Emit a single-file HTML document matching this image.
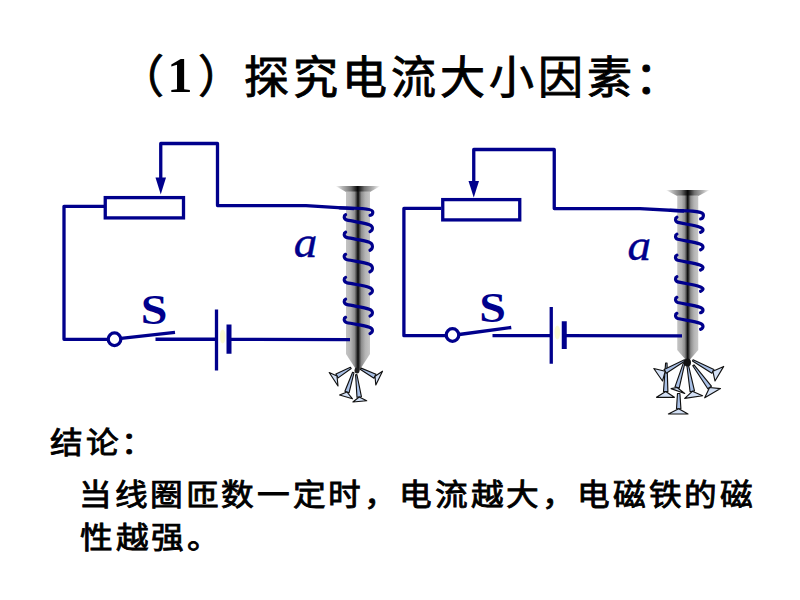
<!DOCTYPE html>
<html lang="zh-CN">
<head>
<meta charset="utf-8">
<title>探究电流大小因素</title>
<style>
html,body{margin:0;padding:0;background:#fff;}
body{width:800px;height:600px;position:relative;overflow:hidden;font-family:"Liberation Serif",serif;color:#000;}
.t{position:absolute;white-space:nowrap;line-height:1;font-weight:normal;}
#title{left:121.95px;top:52px;font-size:45px;letter-spacing:3.9px;-webkit-text-stroke:0.9px #000;}
#title .n{font-family:"Liberation Serif",serif;font-weight:bold;-webkit-text-stroke:0;font-size:50.5px;letter-spacing:0;margin-right:-0.8px;position:relative;left:-3.6px;top:-1.6px;}
#title .pl{position:relative;left:-2.6px;top:-1.5px;}
#title .pr{position:relative;left:2.75px;top:-1.5px;}
.b{font-size:30px;letter-spacing:2.66px;-webkit-text-stroke:0.85px #000;transform:scaleX(1.09);transform-origin:0 0;}
#c1{left:49.9px;top:427.5px;}
#l1{left:79.45px;top:479.5px;}
#l2{left:79.65px;top:523px;}
</style>
</head>
<body>
<svg width="800" height="600" viewBox="0 0 800 600" style="position:absolute;left:0;top:0">
<defs><linearGradient id="gL" gradientUnits="userSpaceOnUse" x1="346" y1="0" x2="370" y2="0"><stop offset="0" stop-color="#c4c4c4"/><stop offset="0.2" stop-color="#b4b4b4"/><stop offset="0.36" stop-color="#8c8c8c"/><stop offset="0.45" stop-color="#3a3a3a"/><stop offset="0.5" stop-color="#050505"/><stop offset="0.55" stop-color="#3a3a3a"/><stop offset="0.64" stop-color="#8c8c8c"/><stop offset="0.8" stop-color="#b4b4b4"/><stop offset="1" stop-color="#c8c8c8"/></linearGradient><linearGradient id="gLh" gradientUnits="userSpaceOnUse" x1="335.25" y1="0" x2="380.25" y2="0"><stop offset="0" stop-color="#ffffff"/><stop offset="0.15" stop-color="#b8b8b8"/><stop offset="0.35" stop-color="#707070"/><stop offset="0.5" stop-color="#050505"/><stop offset="0.65" stop-color="#707070"/><stop offset="0.85" stop-color="#b8b8b8"/><stop offset="1" stop-color="#ffffff"/></linearGradient><linearGradient id="gR" gradientUnits="userSpaceOnUse" x1="677.25" y1="0" x2="698.25" y2="0"><stop offset="0" stop-color="#c4c4c4"/><stop offset="0.2" stop-color="#b4b4b4"/><stop offset="0.36" stop-color="#8c8c8c"/><stop offset="0.45" stop-color="#3a3a3a"/><stop offset="0.5" stop-color="#050505"/><stop offset="0.55" stop-color="#3a3a3a"/><stop offset="0.64" stop-color="#8c8c8c"/><stop offset="0.8" stop-color="#b4b4b4"/><stop offset="1" stop-color="#c8c8c8"/></linearGradient><linearGradient id="gRh" gradientUnits="userSpaceOnUse" x1="665.5" y1="0" x2="710" y2="0"><stop offset="0" stop-color="#ffffff"/><stop offset="0.15" stop-color="#b8b8b8"/><stop offset="0.35" stop-color="#707070"/><stop offset="0.5" stop-color="#050505"/><stop offset="0.65" stop-color="#707070"/><stop offset="0.85" stop-color="#b8b8b8"/><stop offset="1" stop-color="#ffffff"/></linearGradient></defs>
<ellipse cx="222.7" cy="336.5" rx="2.8" ry="7" fill="#fbfbd2"/>
<ellipse cx="557.3" cy="332.5" rx="2.8" ry="7" fill="#fbfbd2"/>
<path d="M335.5,186 L380.5,186 L370,192 L346,192 Z" fill="url(#gLh)"/><path d="M346,191.5 L370,191.5 L370,354 L359,371 L357,371 L346,354 Z" fill="url(#gL)"/><path d="M665.75,190 L709.75,190 L698.25,196 L677.25,196 Z" fill="url(#gRh)"/><path d="M677.25,195.5 L698.25,195.5 L698.25,350 L688.75,361 L686.75,361 L677.25,350 Z" fill="url(#gR)"/>

<g fill="none" stroke="#00008c" stroke-width="3.3" stroke-linejoin="round" stroke-linecap="butt">
<path d="M160.75,180 L160.75,143.5 L217.5,143.5 L217.5,205.5 L306,205.6 L354,208.6"/>
<rect x="105.25" y="197.6" width="78.25" height="20.3" stroke-linejoin="miter"/>
<path d="M104,206.3 L64,206.3 L64,339.3 L108,339.3"/>
<path d="M121,338.3 L175,332.3"/>
<circle cx="114.5" cy="339.25" r="6.3" fill="#fff"/>
<path d="M155.5,339.25 L216.5,339.25"/>
<path d="M216.5,309.5 L216.5,370.5"/>
<path d="M229,324.5 L229,353.75" stroke-width="5"/>
<path d="M229,339.4 L350,339.6"/>
</g>
<polygon points="155.5,177.5 166,177.5 160.75,194.5" fill="#00008c"/>


<g fill="none" stroke="#00008c" stroke-width="3.3" stroke-linejoin="round" stroke-linecap="butt">
<path d="M473.75,183 L473.75,149.5 L554.25,149.5 L554.25,208.6 L640,208.6 L684,211"/>
<rect x="442.75" y="199.6" width="77" height="20.3" stroke-linejoin="miter"/>
<path d="M441,208.4 L403.9,208.4 L403.9,335.7 L446,335.7"/>
<path d="M459,334.5 L511.25,327.5"/>
<circle cx="452.5" cy="335" r="6.3" fill="#fff"/>
<path d="M492.5,335.7 L551.25,335.7"/>
<path d="M551.25,307 L551.25,363.75"/>
<path d="M564.25,321.25 L564.25,349" stroke-width="5"/>
<path d="M564.25,335.7 L682,335.8"/>
</g>
<polygon points="468.5,181 479,181 473.75,197.5" fill="#00008c"/>

<g fill="none" stroke="#00008c" stroke-width="3.2" stroke-linecap="round"><path d="M340.0,207.9 C366.8,208.2 372.8,209.4 372.8,212.1 C372.8,214.3 371.8,215.3 370.0,215.3"/>
<path d="M345.6,214.7 C343.8,215.5 343.4,218.7 346.5,219.9 C354.0,221.7 363.8,222.7 369.3,224.7 C373.4,226.2 373.2,230.1 370.0,231.6"/>
<path d="M345.6,232.2 C343.8,233.0 343.4,236.2 346.5,237.4 C354.0,239.2 363.8,240.2 369.3,242.2 C373.4,243.7 373.2,248.8 370.0,250.3"/>
<path d="M345.6,254.3 C343.8,255.1 343.4,258.3 346.5,259.5 C354.0,261.3 363.8,262.3 369.3,264.3 C373.4,265.8 373.2,270.3 370.0,271.8"/>
<path d="M345.6,277.4 C343.8,278.2 343.4,281.4 346.5,282.6 C354.0,284.4 363.8,285.4 369.3,287.4 C373.4,288.9 373.2,292.4 370.0,293.9"/>
<path d="M345.6,299.2 C343.8,300.0 343.4,303.2 346.5,304.4 C354.0,306.2 363.8,307.2 369.3,309.2 C373.4,310.7 373.2,314.6 370.0,316.1"/>
<path d="M345.6,317.3 C343.8,318.1 343.4,321.3 346.5,322.5 C354.0,324.3 363.8,325.3 369.3,327.3 C373.4,328.8 373.2,332.1 370.0,333.6"/></g>
<g fill="none" stroke="#00008c" stroke-width="3.2" stroke-linecap="round"><path d="M670.0,210.3 C697.4,210.6 703.4,211.8 703.4,215.1 C703.4,217.9 702.4,218.9 700.6,218.9"/>
<path d="M676.9,217.2 C675.1,218.0 674.7,221.2 677.8,222.4 C685.3,224.2 694.4,225.2 699.9,227.2 C704.0,228.7 703.8,230.8 700.6,232.3"/>
<path d="M676.9,234.1 C675.1,234.9 674.7,238.1 677.8,239.3 C685.3,241.1 694.4,242.1 699.9,244.1 C704.0,245.6 703.8,248.3 700.6,249.8"/>
<path d="M676.9,255.1 C675.1,255.9 674.7,259.1 677.8,260.3 C685.3,262.1 694.4,263.1 699.9,265.1 C704.0,266.6 703.8,268.5 700.6,270.0"/>
<path d="M676.9,276.7 C675.1,277.5 674.7,280.7 677.8,281.9 C685.3,283.7 694.4,284.7 699.9,286.7 C704.0,288.2 703.8,289.8 700.6,291.3"/>
<path d="M676.9,297.3 C675.1,298.1 674.7,301.3 677.8,302.5 C685.3,304.3 694.4,305.3 699.9,307.3 C704.0,308.8 703.8,311.2 700.6,312.7"/>
<path d="M676.9,313.3 C675.1,314.1 674.7,317.3 677.8,318.5 C685.3,320.3 694.4,321.3 699.9,323.3 C704.0,324.8 703.8,327.8 700.6,329.3"/></g>
<g stroke="#111" stroke-width="1.15" stroke-linejoin="round"><path d="M350.4,367.3 L335.9,374.1 L338.1,377.9 L351.2,368.5 Z" fill="#a9c0e6"/><path d="M337.0,376.0 L329.2,372.5 L338.0,386.0 Z" fill="#d3e0f5"/><path d="M352.6,372.3 L344.9,391.3 L349.1,392.7 L354.0,372.7 Z" fill="#a9c0e6"/><path d="M347.0,392.0 L339.6,395.0 L352.5,398.8 Z" fill="#d3e0f5"/><path d="M355.6,374.7 L357.0,397.3 L361.4,396.7 L356.9,374.5 Z" fill="#a9c0e6"/><path d="M359.2,397.0 L352.9,402.0 L366.7,400.8 Z" fill="#d3e0f5"/><path d="M360.5,369.4 L374.0,378.2 L376.0,374.3 L361.1,368.1 Z" fill="#a9c0e6"/><path d="M375.0,376.2 L382.5,371.2 L375.8,385.0 Z" fill="#d3e0f5"/></g><ellipse cx="357" cy="370.5" rx="2.5" ry="3" fill="#222"/>
<g stroke="#111" stroke-width="1.15" stroke-linejoin="round"><path d="M665.6,363.0 L663.5,391.5 L667.9,391.5 L667.0,363.0 Z" fill="#a9c0e6"/><path d="M665.7,391.5 L656.5,397.3 L674.4,397.3 Z" fill="#d3e0f5"/><path d="M684.4,359.8 L664.1,369.4 L666.3,373.2 L685.0,361.0 Z" fill="#a9c0e6"/><path d="M665.2,371.3 L653.8,368.5 L662.5,381.0 Z" fill="#d3e0f5"/><path d="M683.4,362.9 L675.0,386.9 L679.2,388.1 L684.8,363.3 Z" fill="#a9c0e6"/><path d="M677.1,387.5 L671.1,388.6 L684.7,393.5 Z" fill="#d3e0f5"/><path d="M677.5,393.5 L676.5,408.7 L680.9,408.7 L679.9,393.5 Z" fill="#a9c0e6"/><path d="M678.7,408.7 L668.4,414.0 L688.0,414.0 Z" fill="#d3e0f5"/><path d="M686.7,363.8 L690.1,391.7 L694.5,390.9 L688.1,363.6 Z" fill="#a9c0e6"/><path d="M692.3,391.3 L684.7,398.4 L702.6,395.7 Z" fill="#d3e0f5"/><path d="M692.8,365.7 L707.8,388.8 L711.4,386.2 L694.0,364.9 Z" fill="#a9c0e6"/><path d="M709.6,387.5 L704.7,397.8 L720.5,388.6 Z" fill="#d3e0f5"/><path d="M692.5,361.0 L711.9,373.2 L713.9,369.4 L693.1,359.8 Z" fill="#a9c0e6"/><path d="M712.9,371.3 L723.7,366.4 L715.0,381.0 Z" fill="#d3e0f5"/></g><ellipse cx="687.5" cy="362.5" rx="3.5" ry="4" fill="#111"/>

<g fill="#00008c" font-family="Liberation Serif, serif" font-weight="bold">
<text transform="translate(140.8,324) scale(1.09,0.98)" font-size="44">S</text>
<text transform="translate(479.2,321.7) scale(1.09,0.98)" font-size="44">S</text>
<text transform="translate(293.8,257.3) scale(1.07,1)" font-size="44" font-style="italic" font-weight="normal" stroke="#00008c" stroke-width="0.4">a</text>
<text transform="translate(627.6,259.5) scale(1.07,1)" font-size="44" font-style="italic" font-weight="normal" stroke="#00008c" stroke-width="0.4">a</text>
</g>

</svg>
<div class="t" id="title"><span class="pl">（</span><span class="n">1</span><span class="pr">）</span>探究电流大小因素：</div>
<div class="t b" id="c1">结论：</div>
<div class="t b" id="l1">当线圈匝数一定时，电流越大，电磁铁的磁</div>
<div class="t b" id="l2">性越强。</div>
</body>
</html>
